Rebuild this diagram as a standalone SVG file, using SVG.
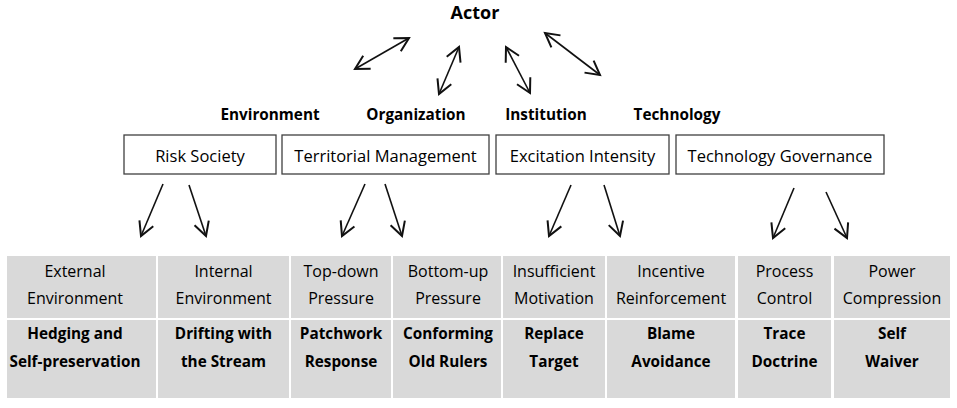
<svg xmlns="http://www.w3.org/2000/svg" width="957" height="408" viewBox="0 0 957 408">
<style>
.t{font-family:"Open Sans","Noto Sans",sans-serif;font-size:16px;fill:#000;text-anchor:middle}
.bx{font-size:16.5px}
.b{font-family:"Open Sans","Noto Sans",sans-serif;font-size:15.3px;font-weight:bold;fill:#000;text-anchor:middle}
.box{fill:#fff;stroke:#404040;stroke-width:1.3}
.cell{fill:#d9d9d9}
.ln{stroke:#111;stroke-width:1.6;fill:none}
</style>
<defs>
<marker id="ah" markerUnits="userSpaceOnUse" markerWidth="20" markerHeight="20" refX="0" refY="0" viewBox="-12 -8 14 16" orient="auto-start-reverse">
<path d="M-11,-6 L0,0 L-11,6" fill="none" stroke="#111" stroke-width="1.6"/>
</marker>
</defs>
<rect width="957" height="408" fill="#fff"/>
<g id="actor"><text class="b" x="475" y="19" style="font-size:18px">Actor</text></g>
<g id="labels">
<text class="b" x="270" y="120">Environment</text>
<text class="b" x="416" y="120">Organization</text>
<text class="b" x="546" y="120">Institution</text>
<text class="b" x="677" y="120">Technology</text>
</g>
<g id="risk-society"><rect class="box" x="124" y="135" width="152" height="39"/><text class="t bx" x="200" y="162">Risk Society</text></g>
<g id="territorial-management"><rect class="box" x="282" y="135" width="207" height="39"/><text class="t bx" x="385.5" y="162">Territorial Management</text></g>
<g id="excitation-intensity"><rect class="box" x="496" y="135" width="173" height="39"/><text class="t bx" x="582.5" y="162">Excitation Intensity</text></g>
<g id="technology-governance"><rect class="box" x="676" y="135" width="208" height="39"/><text class="t bx" x="780" y="162">Technology Governance</text></g>
<g id="connectors">
<line class="ln" x1="355" y1="69" x2="409" y2="38" marker-start="url(#ah)" marker-end="url(#ah)"/>
<line class="ln" x1="439" y1="94" x2="459" y2="47" marker-start="url(#ah)" marker-end="url(#ah)"/>
<line class="ln" x1="506" y1="47" x2="530" y2="93" marker-start="url(#ah)" marker-end="url(#ah)"/>
<line class="ln" x1="545" y1="33" x2="600" y2="75" marker-start="url(#ah)" marker-end="url(#ah)"/>
<line class="ln" x1="163" y1="184" x2="141" y2="236" marker-end="url(#ah)"/>
<line class="ln" x1="189" y1="185" x2="206" y2="236" marker-end="url(#ah)"/>
<line class="ln" x1="365" y1="184" x2="342" y2="236" marker-end="url(#ah)"/>
<line class="ln" x1="385" y1="184" x2="402" y2="236" marker-end="url(#ah)"/>
<line class="ln" x1="571" y1="185" x2="549" y2="236" marker-end="url(#ah)"/>
<line class="ln" x1="604" y1="185" x2="620" y2="236" marker-end="url(#ah)"/>
<line class="ln" x1="794" y1="188" x2="773" y2="238" marker-end="url(#ah)"/>
<line class="ln" x1="826" y1="192" x2="847" y2="238" marker-end="url(#ah)"/>
</g>
<g id="col1"><rect class="cell" x="7" y="256" width="149" height="62"/><rect class="cell" x="7" y="320" width="149" height="78"/>
<text class="t" x="75" y="277">External</text><text class="t" x="75" y="304">Environment</text>
<text class="b" x="75" y="339">Hedging and</text><text class="b" x="75" y="367">Self-preservation</text></g>
<g id="col2"><rect class="cell" x="158" y="256" width="131" height="62"/><rect class="cell" x="158" y="320" width="131" height="78"/>
<text class="t" x="223.5" y="277">Internal</text><text class="t" x="223.5" y="304">Environment</text>
<text class="b" x="223.5" y="339">Drifting with</text><text class="b" x="223.5" y="367">the Stream</text></g>
<g id="col3"><rect class="cell" x="291" y="256" width="100" height="62"/><rect class="cell" x="291" y="320" width="100" height="78"/>
<text class="t" x="341" y="277">Top-down</text><text class="t" x="341" y="304">Pressure</text>
<text class="b" x="341" y="339">Patchwork</text><text class="b" x="341" y="367">Response</text></g>
<g id="col4"><rect class="cell" x="393" y="256" width="108" height="62"/><rect class="cell" x="393" y="320" width="108" height="78"/>
<text class="t" x="448" y="277">Bottom-up</text><text class="t" x="448" y="304">Pressure</text>
<text class="b" x="448" y="339">Conforming</text><text class="b" x="448" y="367">Old Rulers</text></g>
<g id="col5"><rect class="cell" x="503" y="256" width="102" height="62"/><rect class="cell" x="503" y="320" width="102" height="78"/>
<text class="t" x="554" y="277">Insufficient</text><text class="t" x="554" y="304">Motivation</text>
<text class="b" x="554" y="339">Replace</text><text class="b" x="554" y="367">Target</text></g>
<g id="col6"><rect class="cell" x="607" y="256" width="128" height="62"/><rect class="cell" x="607" y="320" width="128" height="78"/>
<text class="t" x="671" y="277">Incentive</text><text class="t" x="671" y="304">Reinforcement</text>
<text class="b" x="671" y="339">Blame</text><text class="b" x="671" y="367">Avoidance</text></g>
<g id="col7"><rect class="cell" x="738" y="256" width="93" height="62"/><rect class="cell" x="738" y="320" width="93" height="78"/>
<text class="t" x="784.5" y="277">Process</text><text class="t" x="784.5" y="304">Control</text>
<text class="b" x="784.5" y="339">Trace</text><text class="b" x="784.5" y="367">Doctrine</text></g>
<g id="col8"><rect class="cell" x="834" y="256" width="116" height="62"/><rect class="cell" x="834" y="320" width="116" height="78"/>
<text class="t" x="892" y="277">Power</text><text class="t" x="892" y="304">Compression</text>
<text class="b" x="892" y="339">Self</text><text class="b" x="892" y="367">Waiver</text></g>
</svg>
